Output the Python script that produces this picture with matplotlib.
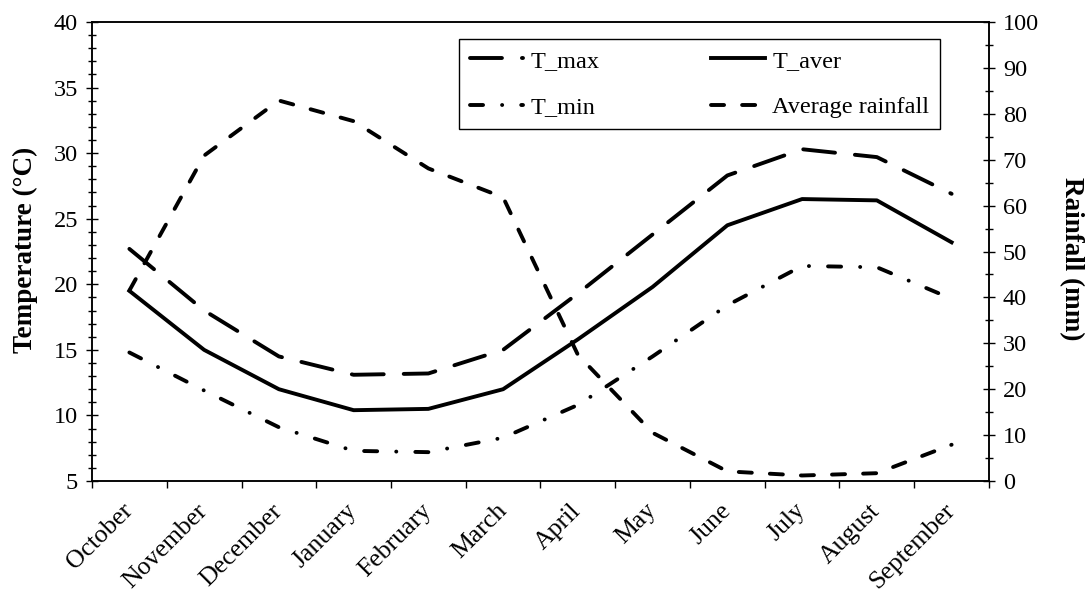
import matplotlib
matplotlib.use("Agg")
import numpy as np
import matplotlib.pyplot as plt
from matplotlib.ticker import MultipleLocator

plt.rcParams['font.family'] = ['Liberation Serif', 'DejaVu Serif']
plt.rcParams['lines.scale_dashes'] = False

months = ["October", "November", "December", "January", "February", "March",
          "April", "May", "June", "July", "August", "September"]
t_max = [22.7, 18.0, 14.5, 13.1, 13.2, 15.0, 19.3, 23.8, 28.3, 30.3, 29.7, 26.9]
t_aver = [19.5, 15.0, 12.0, 10.4, 10.5, 12.0, 15.8, 19.8, 24.5, 26.5, 26.4, 23.2]
t_min = [14.8, 11.9, 9.1, 7.3, 7.2, 8.3, 10.8, 14.5, 18.4, 21.4, 21.3, 18.9]
rain = [41.5, 70.9, 82.9, 78.4, 68.1, 61.8, 27.5, 10.5, 2.1, 1.2, 1.7, 7.9]

FS = 17.5
LW = 2.8

fig = plt.figure(figsize=(10.85, 5.92), dpi=100)
ax = fig.add_axes([0.0848, 0.1875, 0.8267, 0.7753])
x = np.arange(len(months))

l_max, = ax.plot(x, t_max, color="black", lw=LW, linestyle=(0, (23, 14.4)),
                 dash_capstyle="round", label="T_max")
l_aver, = ax.plot(x, t_aver, color="black", lw=LW, label="T_aver")
l_min, = ax.plot(x, t_min, color="black", lw=LW, linestyle=(0, (9.4, 13.7, 0.07, 13.7)),
                 dash_capstyle="round", label="T_min")

ax.set_xlim(-0.5, 11.5)
ax.set_ylim(5, 40)
ax.yaxis.set_major_locator(MultipleLocator(5))
ax.yaxis.set_minor_locator(MultipleLocator(1))
ax.set_xticks(x)
ax.set_xticklabels(months, rotation=45, ha="right", va="center",
                   rotation_mode="anchor", fontsize=18.5)
ax.set_xticks(np.arange(-0.5, 12, 1), minor=True)
ax.tick_params(axis="x", which="major", length=0, pad=19)
ax.tick_params(axis="x", which="minor", length=5, width=1, direction="out")
ax.tick_params(axis="y", which="major", length=8, width=1, direction="inout",
               labelsize=FS, pad=6)
ax.tick_params(axis="y", which="minor", length=6, width=1, direction="inout")
for s in ax.spines.values():
    s.set_linewidth(1.1)

ax.set_ylabel("Temperature (°C)", fontsize=19.5, fontweight="bold", va="center")
ax.yaxis.set_label_coords(-0.0747, 0.503)

ax2 = ax.twinx()
l_rain, = ax2.plot(x, rain, color="black", lw=LW, linestyle=(0, (9.4, 13)),
                   dash_capstyle="round", label="Average rainfall")
ax2.set_ylim(0, 100)
ax2.yaxis.set_major_locator(MultipleLocator(10))
ax2.yaxis.set_minor_locator(MultipleLocator(5))
ax2.tick_params(axis="y", which="major", length=8, width=1, direction="inout",
                labelsize=FS, pad=6)
ax2.tick_params(axis="y", which="minor", length=6, width=1, direction="inout")
for s in ax2.spines.values():
    s.set_linewidth(1.1)
ax2.set_ylabel("Rainfall (mm)", fontsize=19.5, fontweight="bold", rotation=270,
               va="center")
ax2.yaxis.set_label_coords(1.0914, 0.484)

leg = ax2.legend(handles=[l_max, l_min, l_aver, l_rain], ncol=2, loc="upper right",
                 bbox_to_anchor=(0.9454, 0.963), borderaxespad=0, fontsize=FS,
                 handlelength=2.2, handletextpad=0.3, columnspacing=4.6,
                 borderpad=0.45, labelspacing=1.0, fancybox=False,
                 edgecolor="black", framealpha=1)
leg.get_frame().set_linewidth(1.0)

fig.savefig("out.png", dpi=100)
